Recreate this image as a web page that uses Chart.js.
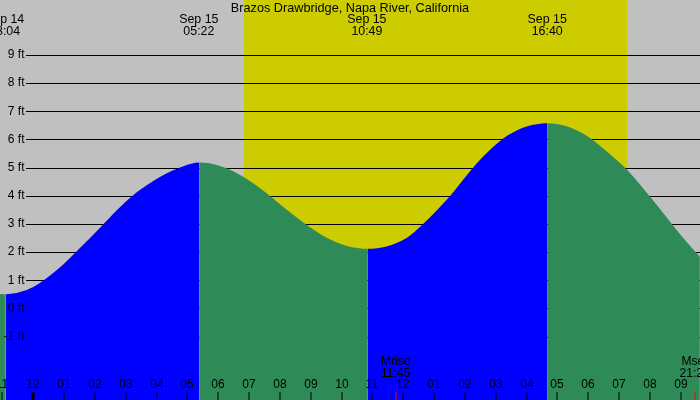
<!DOCTYPE html>
<html lang="en">
<head>
<meta charset="UTF-8">
<title>Brazos Drawbridge, Napa River, California</title>
<script src="https://cdn.jsdelivr.net/npm/chart.js"></script>
<style>
  html, body { margin: 0; padding: 0; background: #c0c0c0; }
  #wrap { width: 700px; height: 400px; }
</style>
</head>
<body>
<div id="wrap"><canvas id="tideChart"></canvas></div>
<script>
// hours counted from Sep 15 00:00 (negative = Sep 14 evening)
const tideHours = [-1.08, -0.9, -0.43, 0.0, 0.32, 0.87, 1.35, 1.84, 2.22, 2.70, 3.24, 3.79, 4.33, 4.87, 5.38,
                   6.06, 6.81, 7.57, 8.22, 8.87, 9.52, 10.17, 10.85,
                   11.46, 12.11, 12.6, 13.52, 14.16, 14.6, 15.14, 15.68, 16.22, 16.68,
                   17.3, 17.84, 18.38, 18.92, 19.25, 20.0, 20.54, 21.08, 21.62];
const tideFeet  = [0.51, 0.50, 0.58, 0.76, 0.98, 1.46, 1.97, 2.50, 2.93, 3.48, 4.02, 4.45, 4.80, 5.05, 5.18,
                   5.06, 4.68, 4.09, 3.50, 2.96, 2.51, 2.22, 2.12,
                   2.20, 2.50, 2.95, 3.99, 4.86, 5.40, 5.95, 6.32, 6.52, 6.58,
                   6.47, 6.20, 5.78, 5.27, 4.93, 3.97, 3.24, 2.50, 1.84];

const extremeHours = [-0.93, 5.37, 10.82, 16.67];
const extremeDays  = ['Sep 14', 'Sep 15', 'Sep 15', 'Sep 15'];
const extremeTimes = ['23:04', '05:22', '10:49', '16:40'];

const sunHours  = [6.83, 19.26];   // sunrise, sunset
const moonHours = [11.75, 21.45];
const moonNames = ['Mrise', 'Mset'];
const moonTimes = ['11:45', '21:27'];

const footTicks  = [-1, 0, 1, 2, 3, 4, 5, 6, 7, 8, 9];
const hourTicks  = [-1, 0, 1, 2, 3, 4, 5, 6, 7, 8, 9, 10, 11, 12, 13, 14, 15, 16, 17, 18, 19, 20, 21];
const hourLabels = ['11', '12', '01', '02', '03', '04', '05', '06', '07', '08', '09', '10',
                    '11', '12', '01', '02', '03', '04', '05', '06', '07', '08', '09'];

const FONT = '12px "Liberation Sans", Arial, sans-serif';

const tideDecor = {
    id: 'tideDecor',
    beforeDatasetsDraw(chart) {
        const {ctx, width, height} = chart;
        const x = chart.scales.x, y = chart.scales.y;
        ctx.save();
        ctx.fillStyle = '#c0c0c0';
        ctx.fillRect(0, 0, width, height);
        // daylight band
        const s0 = x.getPixelForValue(sunHours[0]);
        const s1 = x.getPixelForValue(sunHours[1]);
        ctx.fillStyle = '#cccc00';
        ctx.fillRect(s0, 0, s1 - s0, height);
        // grid lines
        ctx.strokeStyle = '#000';
        ctx.lineWidth = 1;
        footTicks.forEach(v => {
            const py = Math.round(y.getPixelForValue(v)) + 0.5;
            ctx.beginPath();
            ctx.moveTo(26, py);
            ctx.lineTo(width, py);
            ctx.stroke();
        });
        ctx.restore();
    },
    afterDatasetsDraw(chart) {
        const {ctx, width} = chart;
        const x = chart.scales.x, y = chart.scales.y;
        ctx.save();
        ctx.font = FONT;
        ctx.fillStyle = '#000';
        ctx.textBaseline = 'middle';

        // y labels
        ctx.textAlign = 'right';
        footTicks.forEach(v => {
            ctx.fillText(v + ' ft', 24.5, y.getPixelForValue(v));
        });

        ctx.textAlign = 'center';
        ctx.font = '12.7px "Liberation Sans", Arial, sans-serif';
        ctx.fillText('Brazos Drawbridge, Napa River, California', width / 2, 8);

        // high / low labels
        ctx.font = '12.4px "Liberation Sans", Arial, sans-serif';
        extremeHours.forEach((h, i) => {
            const px = x.getPixelForValue(h);
            ctx.fillText(extremeDays[i], px, 20);
            ctx.fillText(extremeTimes[i], px, 31.5);
        });

        // hour axis
        ctx.font = FONT;
        hourTicks.forEach((h, i) => {
            const px = Math.round(x.getPixelForValue(h));
            ctx.fillText(hourLabels[i], px, 385);
            if (h === 0) {
                ctx.fillRect(px - 1.5, 392, 3, 8);
            } else {
                ctx.fillRect(px - 0.5, 392, 1, 8);
            }
        });

        // moon rise / set
        moonHours.forEach((h, i) => {
            const px = x.getPixelForValue(h);
            ctx.fillStyle = '#000';
            ctx.fillText(moonNames[i], px, 362);
            ctx.fillText(moonTimes[i], px, 373.5);
            ctx.fillStyle = '#ff0000';
            ctx.fillRect(Math.round(px) - 0.5, 392, 1, 8);
        });
        ctx.restore();
    }
};

const ctx = document.getElementById('tideChart').getContext('2d');
new Chart(ctx, {
    type: 'line',
    data: {
        datasets: [{
            data: tideHours.map((h, i) => ({x: h, y: tideFeet[i]})),
            fill: 'start',
            backgroundColor: '#0000ff',
            borderColor: 'rgba(0,0,0,0)',
            borderWidth: 0,
            pointRadius: 0,
            cubicInterpolationMode: 'monotone',
            segment: {
                backgroundColor: c => c.p1.parsed.y >= c.p0.parsed.y ? '#0000ff' : '#2e8b57'
            }
        }]
    },
    options: {
        responsive: true,
        maintainAspectRatio: false,
        animation: false,
        layout: { padding: 0 },
        plugins: { legend: { display: false }, tooltip: { enabled: false } },
        scales: {
            x: { type: 'linear', display: false, min: -1.08, max: 21.625 },
            y: { display: false, min: -3.255, max: 10.955 }
        }
    },
    plugins: [tideDecor]
});
</script>
</body>
</html>
